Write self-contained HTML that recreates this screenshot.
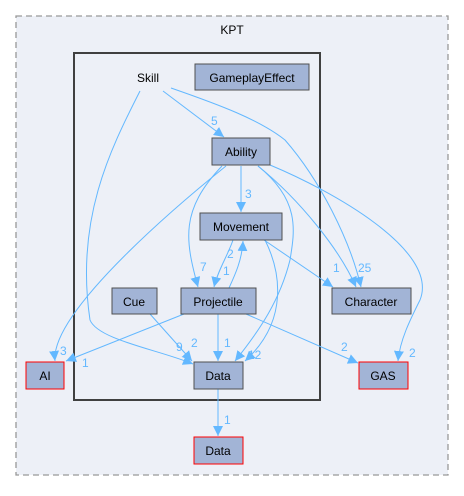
<!DOCTYPE html>
<html><head><style>
body{margin:0;background:#fff;}
svg text{font-family:"Liberation Sans",sans-serif;}
</style></head><body>
<svg width="464" height="491" viewBox="0 0 464 491" xmlns="http://www.w3.org/2000/svg">
<defs>
<marker id="a" markerWidth="10" markerHeight="10" refX="10" refY="5" orient="auto" markerUnits="userSpaceOnUse">
<path d="M0,0 L10,5 L0,10 z" fill="#63b8ff"/></marker>
</defs>
<rect x="16" y="16" width="432" height="459" fill="#edf0f7" stroke="#999999" stroke-dasharray="6,4" stroke-width="1.3"/>
<text x="232" y="34" font-size="12" text-anchor="middle">KPT</text>
<rect x="74" y="53" width="246" height="347" fill="#edf0f7" stroke="#404040" stroke-width="2"/>
<text x="148" y="82" font-size="12" text-anchor="middle">Skill</text>
<g fill="none" stroke="#63b8ff" stroke-width="1" marker-end="url(#a)">
<path d="M163,91 L224,137"/>
<path d="M140,91 C110,150 75,220 90,320 C98,340 160,350 193,364"/>
<path d="M171,88 C220,105 260,120 285,140 C320,180 350,240 361,287"/>
<path d="M241,166 L241,212"/>
<path d="M226,166 C190,195 50,310 55,361"/>
<path d="M222,166 C180,210 185,240 198,287"/>
<path d="M258,166 C300,200 295,230 290,260 C280,300 260,330 235,361"/>
<path d="M258,166 C300,200 340,250 356,287"/>
<path d="M270,165 C330,190 440,250 420,300 C410,320 400,340 398,361"/>
<path d="M233,240 C228,255 218,270 214,287"/>
<path d="M229,288 C235,275 242,260 243,241"/>
<path d="M265,240 C280,270 290,320 245,361"/>
<path d="M264,240 L333,287"/>
<path d="M150,314 L192,361"/>
<path d="M218,314 L218,361"/>
<path d="M184,314 L66,361"/>
<path d="M246,314 L358,363"/>
<path d="M218,389 L218,436"/>
</g>
<g font-size="12" fill="#63b8ff">
<text x="211" y="125">5</text><text x="245" y="198">3</text>
<text x="200" y="271">7</text><text x="223" y="275">1</text><text x="227" y="258">2</text>
<text x="333" y="272">1</text><text x="358" y="272">25</text>
<text x="60" y="355">3</text><text x="82" y="367">1</text>
<text x="176" y="351">9</text><text x="191" y="347">2</text><text x="224" y="347">1</text>
<text x="248" y="359">12</text><text x="341" y="351">2</text><text x="409" y="357">2</text>
<text x="224" y="424">1</text>
</g>
<g stroke="#505050" stroke-width="1" fill="#a2b4d6" font-size="12">
<rect x="195" y="64" width="114" height="26"/>
<rect x="212" y="138" width="58" height="27"/>
<rect x="200" y="213" width="82" height="27"/>
<rect x="112" y="288" width="45" height="26"/>
<rect x="181" y="288" width="75" height="26"/>
<rect x="332" y="288" width="79" height="26"/>
<rect x="194" y="362" width="49" height="27"/>
<rect x="26" y="362" width="38" height="27" stroke="#ff0000"/>
<rect x="359" y="362" width="49" height="27" stroke="#ff0000"/>
<rect x="194" y="437" width="49" height="27" stroke="#ff0000"/>
</g>
<g font-size="12" text-anchor="middle" fill="#000">
<text x="252" y="82">GameplayEffect</text>
<text x="241" y="156">Ability</text>
<text x="241" y="231">Movement</text>
<text x="134" y="306">Cue</text>
<text x="218" y="306">Projectile</text>
<text x="371" y="306">Character</text>
<text x="218" y="380">Data</text>
<text x="45" y="380">AI</text>
<text x="383" y="380">GAS</text>
<text x="218" y="455">Data</text>
</g>
</svg>
</body></html>
